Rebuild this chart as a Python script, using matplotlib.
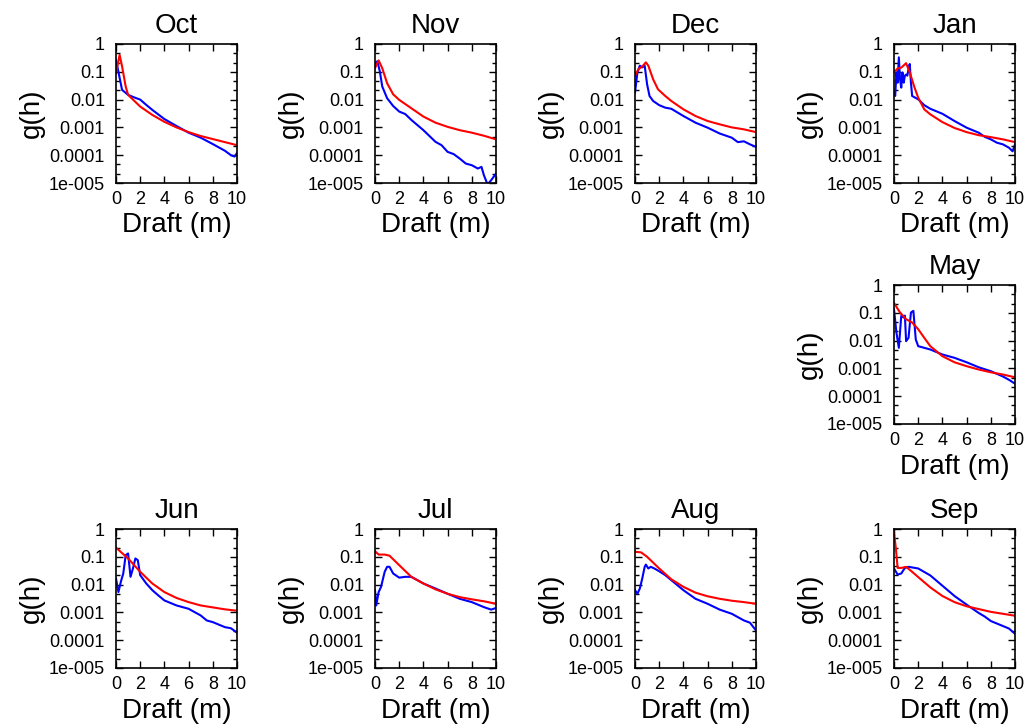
# g(h) draft distributions by month: observed (blue) vs model (red)

import matplotlib
matplotlib.use('Agg')
import matplotlib.pyplot as plt
import numpy as np
from matplotlib.ticker import FixedLocator, FixedFormatter, NullFormatter

plt.rcParams['font.family'] = ['Liberation Sans', 'DejaVu Sans']

# values are log10(g(h))
oct_bx = [0, 0.5, 1, 1.5, 2, 2.5, 3, 4, 5, 6, 7, 8, 9, 9.5, 9.8, 10]
oct_by = [-0.57, -1.65, -1.83, -1.92, -2.0, -2.19, -2.37, -2.7, -2.95, -3.19, -3.37, -3.6, -3.84, -4.0, -4.05, -3.92]
oct_rx = [0, 0.3, 0.5, 0.8, 1, 2, 3, 4, 5, 6, 7, 8, 9, 10]
oct_ry = [-1.05, -0.39, -0.8, -1.53, -1.83, -2.25, -2.55, -2.8, -3.0, -3.17, -3.31, -3.42, -3.53, -3.64]

nov_bx = [0, 0.2, 0.4, 0.6, 1, 1.5, 2, 2.5, 3, 4, 5, 5.5, 6, 6.5, 7, 7.5, 8, 8.5, 8.8, 9, 9.3, 9.6, 10]
nov_by = [-0.69, -0.62, -0.99, -1.53, -1.95, -2.23, -2.43, -2.52, -2.73, -3.1, -3.52, -3.64, -3.88, -3.96, -4.12, -4.3, -4.36, -4.48, -4.42, -4.72, -5.05, -4.9, -4.66]
nov_rx = [0, 0.3, 0.6, 1, 1.5, 2, 3, 4, 5, 6, 7, 8, 9, 10]
nov_ry = [-0.87, -0.59, -0.87, -1.41, -1.81, -2.01, -2.31, -2.61, -2.83, -2.98, -3.1, -3.19, -3.3, -3.43]

dec_bx = [0, 0.2, 0.4, 0.6, 0.8, 1, 1.2, 1.5, 2, 2.5, 3, 4, 5, 6, 7, 8, 8.5, 9, 9.5, 10]
dec_by = [-1.75, -1.02, -0.78, -0.84, -0.78, -1.45, -1.87, -2.05, -2.2, -2.29, -2.33, -2.59, -2.83, -3.01, -3.22, -3.37, -3.53, -3.5, -3.61, -3.7]
dec_rx = [0, 0.3, 0.6, 0.9, 1.1, 1.5, 1.9, 2.5, 3, 4, 5, 6, 7, 8, 9, 10]
dec_ry = [-1.14, -0.9, -0.81, -0.66, -0.78, -1.27, -1.63, -1.87, -2.05, -2.35, -2.59, -2.77, -2.89, -3.0, -3.07, -3.17]

jan_bx = [0, 0.1, 0.2, 0.3, 0.4, 0.5, 0.6, 0.7, 0.8, 0.9, 1.0, 1.1, 1.2, 1.3, 1.4, 1.5, 2, 2.5, 3, 4, 5, 6, 7, 7.5, 8, 8.5, 9, 9.5, 9.8, 10]
jan_by = [-1.75, -1.87, -1.02, -1.39, -0.48, -1.27, -1.57, -1.02, -1.39, -1.14, -1.1, -1.14, -0.9, -0.72, -1.39, -1.87, -1.99, -2.2, -2.33, -2.51, -2.77, -3.01, -3.19, -3.34, -3.43, -3.55, -3.61, -3.73, -3.86, -3.61]
jan_rx = [0, 0.3, 0.6, 1, 1.3, 1.7, 2, 2.5, 3, 4, 5, 6, 7, 8, 9, 10]
jan_ry = [-1.02, -0.88, -0.85, -0.69, -1.02, -1.57, -1.93, -2.35, -2.53, -2.81, -3.02, -3.17, -3.28, -3.35, -3.43, -3.53]

may_bx = [0, 0.2, 0.4, 0.6, 0.8, 0.9, 1.0, 1.2, 1.4, 1.6, 1.8, 2, 2.5, 3, 4, 5, 6, 7, 8, 9, 9.5, 10]
may_by = [-0.87, -1.71, -2.26, -1.11, -1.17, -1.1, -2.02, -1.9, -0.99, -0.93, -1.96, -2.2, -2.26, -2.32, -2.5, -2.62, -2.78, -2.96, -3.1, -3.29, -3.41, -3.55]
may_rx = [0, 0.5, 1, 1.5, 2, 2.5, 3, 4, 5, 6, 7, 8, 9, 10]
may_ry = [-0.65, -0.99, -1.23, -1.35, -1.59, -1.9, -2.2, -2.56, -2.78, -2.92, -3.04, -3.14, -3.22, -3.32]

jun_bx = [0, 0.2, 0.4, 0.6, 0.8, 1.0, 1.2, 1.4, 1.6, 1.8, 2, 2.5, 3, 3.5, 4, 5, 6, 7, 7.5, 8, 9, 9.5, 10]
jun_by = [-1.78, -2.27, -1.9, -1.6, -0.94, -0.88, -1.72, -1.42, -1.06, -1.12, -1.66, -1.96, -2.2, -2.39, -2.57, -2.75, -2.87, -3.11, -3.29, -3.35, -3.53, -3.57, -3.73]
jun_rx = [0, 1, 2, 3, 4, 5, 6, 7, 8, 9, 10]
jun_ry = [-0.67, -1.06, -1.54, -1.96, -2.27, -2.48, -2.63, -2.75, -2.82, -2.89, -2.94]

jul_bx = [0, 0.1, 0.3, 0.5, 0.8, 1.0, 1.2, 1.5, 2, 2.5, 3, 3.5, 4, 5, 6, 7, 8, 9, 9.6, 10]
jul_by = [-2.2, -2.75, -2.27, -2.08, -1.54, -1.36, -1.36, -1.6, -1.75, -1.72, -1.72, -1.84, -1.96, -2.14, -2.33, -2.51, -2.63, -2.81, -2.9, -2.84]
jul_rx = [0, 0.3, 0.8, 1.2, 2, 3, 4, 5, 6, 7, 8, 9, 10]
jul_ry = [-0.8, -0.92, -0.92, -0.96, -1.3, -1.72, -1.96, -2.17, -2.33, -2.45, -2.53, -2.6, -2.69]

aug_bx = [0, 0.2, 0.4, 0.6, 0.8, 0.9, 1.1, 1.3, 1.6, 2, 2.5, 3, 4, 5, 6, 7, 8, 9, 9.5, 10]
aug_by = [-2.2, -2.33, -2.14, -1.78, -1.36, -1.28, -1.42, -1.36, -1.42, -1.52, -1.66, -1.84, -2.2, -2.51, -2.69, -2.9, -3.05, -3.29, -3.37, -3.65]
aug_rx = [0, 0.5, 1, 2, 3, 4, 5, 6, 7, 8, 9, 10]
aug_ry = [-0.82, -0.84, -1.0, -1.42, -1.81, -2.08, -2.29, -2.42, -2.51, -2.58, -2.63, -2.69]

sep_bx = [0, 0.3, 0.6, 0.9, 1.2, 2, 3, 4, 5, 6, 7, 7.5, 8, 9, 9.5, 10]
sep_by = [-1.42, -1.64, -1.6, -1.4, -1.36, -1.42, -1.67, -2.04, -2.41, -2.72, -3.02, -3.15, -3.31, -3.49, -3.58, -3.77]
sep_rx = [0, 0.15, 0.3, 0.6, 1.0, 1.5, 2, 3, 4, 5, 6, 7, 8, 9, 10]
sep_ry = [-0.12, -0.68, -1.4, -1.4, -1.36, -1.54, -1.73, -2.1, -2.41, -2.63, -2.78, -2.88, -2.98, -3.05, -3.12]

ytick_vals = [1, 0.1, 0.01, 0.001, 0.0001, 1e-5]
ytick_labels = ['1', '0.1', '0.01', '0.001', '0.0001', '1e-005']

# (name, blue x, blue y, red x, red y, column, row)
panels = [
    ('Oct', oct_bx, oct_by, oct_rx, oct_ry, 0, 0),
    ('Nov', nov_bx, nov_by, nov_rx, nov_ry, 1, 0),
    ('Dec', dec_bx, dec_by, dec_rx, dec_ry, 2, 0),
    ('Jan', jan_bx, jan_by, jan_rx, jan_ry, 3, 0),
    ('May', may_bx, may_by, may_rx, may_ry, 3, 1),
    ('Jun', jun_bx, jun_by, jun_rx, jun_ry, 0, 2),
    ('Jul', jul_bx, jul_by, jul_rx, jul_ry, 1, 2),
    ('Aug', aug_bx, aug_by, aug_rx, aug_ry, 2, 2),
    ('Sep', sep_bx, sep_by, sep_rx, sep_ry, 3, 2),
]

fig = plt.figure(figsize=(10.28, 7.27), dpi=100)

lefts = [116, 375, 635, 894]
bottoms = [183, 424, 668]
W, H = 121, 139

minor = []
for d in range(-5, 0):
    minor += [10**d * 10**(1/3), 10**d * 10**(2/3)]

for name, bx, by, rx, ry, c, r in panels:
    ax = fig.add_axes([lefts[c] / 1028, 1 - bottoms[r] / 727, W / 1028, H / 727])
    ax.plot(bx, np.power(10.0, by), color='#0000ff', lw=1.5)
    ax.plot(rx, np.power(10.0, ry), color='#ff0000', lw=1.5)
    ax.set_yscale('log')
    ax.set_xlim(0, 10)
    ax.set_ylim(1e-5, 1)
    ax.set_xticks([0, 2, 4, 6, 8, 10])
    ax.yaxis.set_major_locator(FixedLocator(ytick_vals))
    ax.yaxis.set_major_formatter(FixedFormatter(ytick_labels))
    ax.yaxis.set_minor_locator(FixedLocator(minor))
    ax.yaxis.set_minor_formatter(NullFormatter())
    ax.tick_params(which='both', direction='in', top=True, right=True, labelsize=13, width=1)
    ax.tick_params(which='major', length=5)
    ax.tick_params(which='minor', length=3)
    ax.tick_params(axis='x', which='major', pad=6)
    ax.tick_params(axis='y', which='major', pad=8)
    for s in ax.spines.values():
        s.set_linewidth(1.2)
    ax.set_title(name, fontsize=20, pad=8)
    ax.set_xlabel('Draft (m)', fontsize=20, labelpad=3)
    ax.set_ylabel('g(h)', fontsize=20, labelpad=3)

plt.savefig('out.png', dpi=100)
